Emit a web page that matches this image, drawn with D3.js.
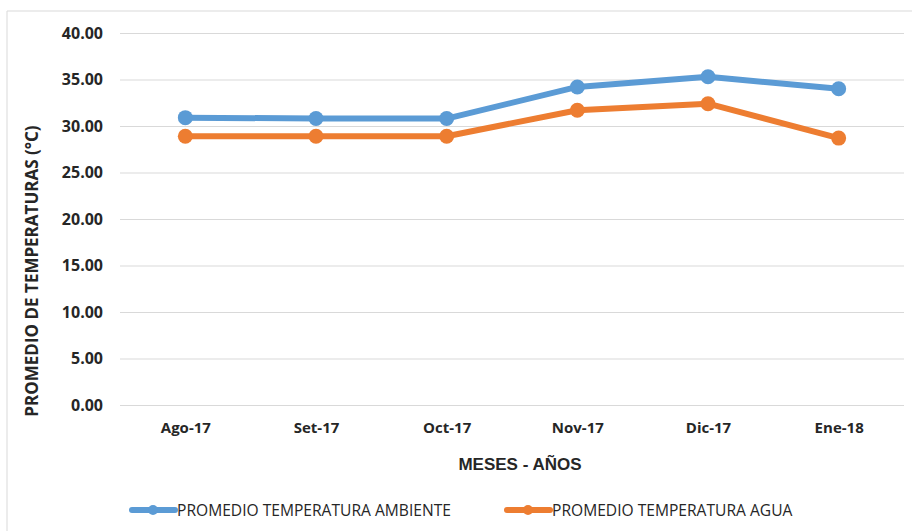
<!DOCTYPE html>
<html>
<head>
<meta charset="utf-8">
<script src="https://cdn.jsdelivr.net/npm/d3@7"></script>
<style>
  body { margin: 0; background: #fff; }
  text { font-family: "Open Sans", "Liberation Sans", sans-serif; fill: #262626; }
</style>
</head>
<body>
<script>
let months = ["Ago-17", "Set-17", "Oct-17", "Nov-17", "Dic-17", "Ene-18"];
let ambiente = [30.9, 30.8, 30.8, 34.2, 35.3, 34.0];
let agua = [28.9, 28.9, 28.9, 31.7, 32.4, 28.7];
let yTicks = [0, 5, 10, 15, 20, 25, 30, 35, 40];
let seriesNames = ["PROMEDIO TEMPERATURA AMBIENTE", "PROMEDIO TEMPERATURA AGUA"];

let svgWidth = 912,
    svgHeight = 531,
    plot = { left: 120, right: 904, top: 33, bottom: 405 },
    colors = ["#5B9BD5", "#ED7D31"];

let svgContainer = d3.select("body").append("svg")
    .attr("width", svgWidth)
    .attr("height", svgHeight);

// chart frame
svgContainer.append("path")
    .attr("d", "M7,531 V11 H912")
    .attr("fill", "none")
    .attr("stroke", "#d9d9d9")
    .attr("stroke-width", 1);

let xScale = d3.scalePoint().domain(months).range([plot.left, plot.right]).padding(0.5);
let yScale = d3.scaleLinear().domain([0, 40]).range([plot.bottom, plot.top]);

// gridlines + y labels
let yAxis = d3.axisLeft(yScale).tickValues(yTicks)
    .tickSize(-(plot.right - plot.left)).tickPadding(17)
    .tickFormat(d3.format(".2f"));
let gy = svgContainer.append("g")
    .attr("transform", "translate(" + plot.left + ",0)")
    .call(yAxis);
gy.select(".domain").remove();
gy.selectAll(".tick line").attr("stroke", "#d9d9d9");
gy.selectAll(".tick text")
    .style("font-family", "Open Sans, sans-serif")
    .style("font-size", "16px").style("font-weight", "bold").attr("fill", "#262626");

// x labels
let xAxis = d3.axisBottom(xScale).tickSize(0).tickPadding(17);
let gx = svgContainer.append("g")
    .attr("transform", "translate(0," + plot.bottom + ")")
    .call(xAxis);
gx.select(".domain").remove();
gx.selectAll(".tick text")
    .style("font-family", "Open Sans, sans-serif")
    .style("font-size", "15px").style("font-weight", "bold").attr("fill", "#262626");

// axis titles
svgContainer.append("text")
    .attr("x", 520).attr("y", 470)
    .attr("text-anchor", "middle")
    .style("font-family", "Liberation Sans, sans-serif")
    .style("font-size", "17px").style("font-weight", "bold")
    .text("MESES - AÑOS");

svgContainer.append("text")
    .attr("transform", "translate(38,271) rotate(-90)")
    .attr("text-anchor", "middle")
    .style("font-size", "17px").style("font-weight", "bold")
    .text("PROMEDIO DE TEMPERATURAS (°C)");

// lines
let line = d3.line().x((d, i) => xScale(months[i])).y(d => yScale(d));
[ambiente, agua].forEach((vals, k) => {
    svgContainer.append("path")
        .datum(vals)
        .attr("d", line)
        .attr("fill", "none")
        .attr("stroke", colors[k])
        .attr("stroke-width", 6)
        .attr("stroke-linejoin", "round");
    svgContainer.selectAll(".pt" + k)
        .data(vals)
        .enter().append("circle")
        .attr("cx", (d, i) => xScale(months[i]))
        .attr("cy", d => yScale(d))
        .attr("r", 7.5)
        .attr("fill", colors[k]);
});

// legend
let legendX = [132, 507];
seriesNames.forEach((name, k) => {
    let g = svgContainer.append("g").attr("transform", "translate(" + legendX[k] + ",510)");
    g.append("line")
        .attr("x1", 0).attr("x2", 43).attr("y1", 0).attr("y2", 0)
        .attr("stroke", colors[k]).attr("stroke-width", 6).attr("stroke-linecap", "round");
    g.append("circle").attr("cx", 21).attr("cy", 0).attr("r", 5).attr("fill", colors[k]);
    g.append("text")
        .attr("x", 45).attr("y", 5.5)
        .style("font-size", "15.6px")
        .text(name);
});
</script>
</body>
</html>
